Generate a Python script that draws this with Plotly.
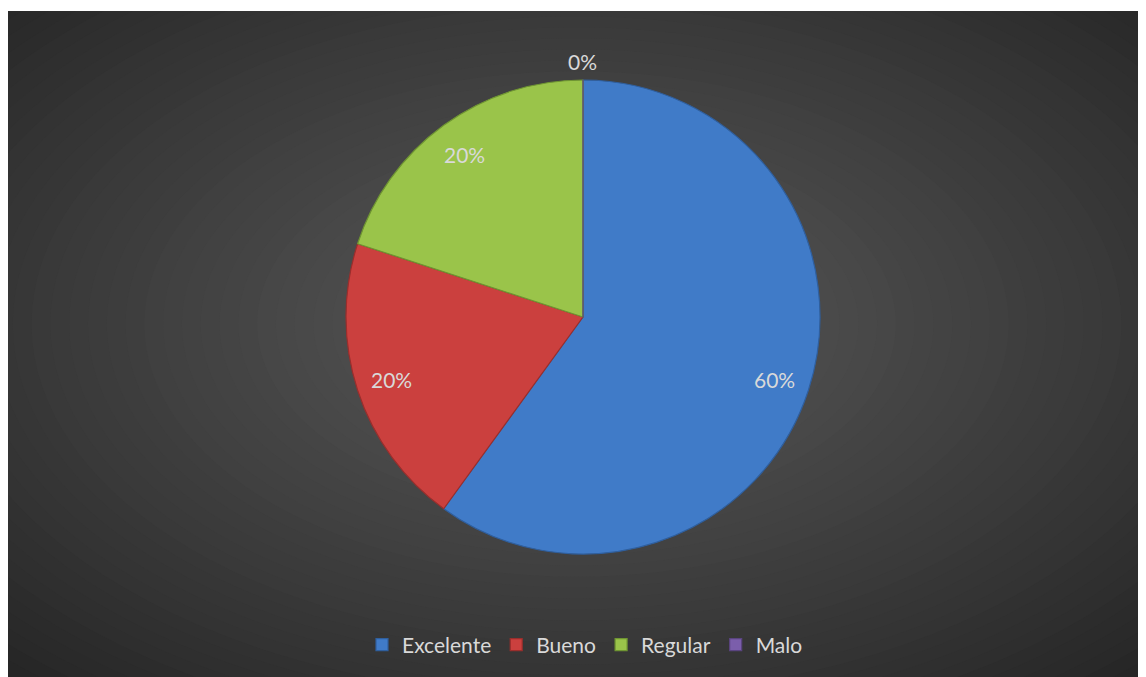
import math
import plotly.graph_objects as go

categories = ["Excelente", "Bueno", "Regular", "Malo"]
values = [60, 20, 20, 0]
colors = ["#407bc8", "#cb403e", "#9ac44a", "#7b5eab"]
edge_colors = ["#2f5f9e", "#9a2e2c", "#6f9532", "#5a4480"]

# browser body margin offsets the figure by 8px
OX, OY = 8, 8
W, H = 1138, 669
fig = go.Figure()

def fx(px):
    return (px - OX) / W

def fy(py):
    return (H - (py - OY)) / H

# pie geometry in page pixels
cx, cy, R = 583, 317, 237
dom_x = [fx(cx - R), fx(cx + R)]
dom_y = [fy(cy + R), fy(cy - R)]

fig.add_trace(go.Pie(
    labels=categories, values=values, sort=False, direction="clockwise",
    rotation=0, textinfo="none", hoverinfo="label+percent",
    marker=dict(colors=colors, line=dict(color=edge_colors, width=1.2)),
    domain=dict(x=dom_x, y=dom_y), showlegend=True,
))

# data labels from values
total = sum(values)
cum = 0
annotations = []
for v in values:
    mid = (cum + v / 2) / total * 2 * math.pi
    cum += v
    pct = v / total * 100
    r = 1.08 * R if v == 0 else 0.85 * R
    px = cx + math.sin(mid) * r
    py = cy - math.cos(mid) * r
    annotations.append(dict(
        x=fx(px), y=fy(py), xref="paper", yref="paper",
        text=f"{pct:.0f}%", showarrow=False,
        font=dict(family="Lato, Open Sans, sans-serif", size=21, color="#d9d9d9"),
        xanchor="center", yanchor="middle"))

# radial gradient background (dark panel from page x=7, y=11)
x0, x1 = fx(7), 1.0
y0, y1 = 0.0, fy(11)
gcx, gcy = (x0 + x1) / 2, (y0 + y1) / 2 + 0.03
ax = (x1 - x0) / 2 * math.sqrt(2) * 1.05
ay = (y1 - y0) / 2 * math.sqrt(2) * 1.05
shapes = []
N = 45
c_out, c_in = 0x25, 0x58
for i in range(N, 0, -1):
    t = i / N
    L = round(c_in + (c_out - c_in) * t ** 1.1)
    col = f"rgb({L},{L},{L})"
    shapes.append(dict(type="circle", xref="paper", yref="paper",
                       x0=gcx - ax * t, x1=gcx + ax * t,
                       y0=gcy - ay * t, y1=gcy + ay * t,
                       fillcolor=col, line=dict(width=0), layer="below"))
# white margin at top
shapes.append(dict(type="rect", xref="paper", yref="paper", x0=-0.1, y0=y1, x1=1.1, y1=1.1,
                   fillcolor="white", line=dict(width=0), layer="below"))

fig.update_layout(
    width=W, height=H, margin=dict(l=0, r=0, t=0, b=0),
    paper_bgcolor="#303030", plot_bgcolor="rgba(0,0,0,0)",
    shapes=shapes, annotations=annotations,
    legend=dict(orientation="h", x=fx(585), xanchor="center", y=fy(645), yanchor="middle",
                font=dict(family="Lato, Open Sans, sans-serif", size=21, color="#d9d9d9"),
                bgcolor="rgba(0,0,0,0)", itemclick=False),
)

fig.write_html("out.html")
